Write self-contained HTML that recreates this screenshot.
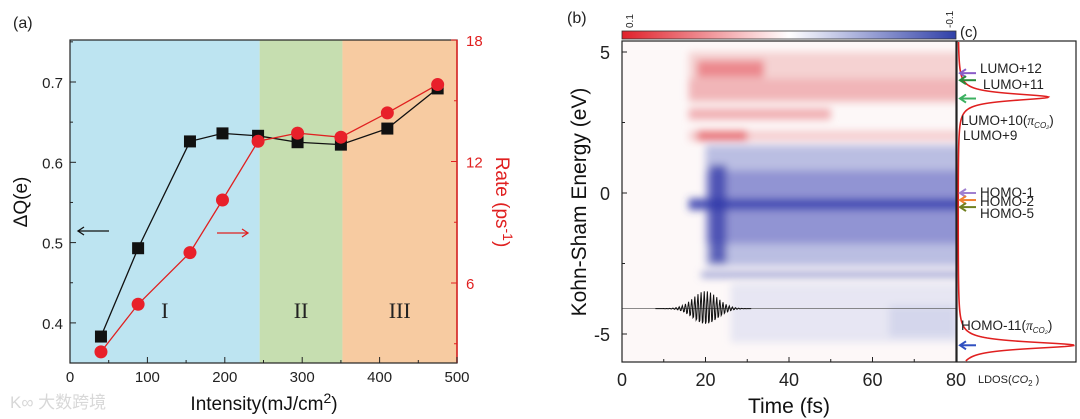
<!DOCTYPE html>
<html><head><meta charset="utf-8"><style>
html,body{margin:0;padding:0;background:#fff;}
svg{display:block;font-family:"Liberation Sans",sans-serif;}
</style></head><body>
<svg id="fig" width="1080" height="419" viewBox="0 0 1080 419" xmlns="http://www.w3.org/2000/svg">
<defs>
<linearGradient id="cbar" x1="0" x2="1" y1="0" y2="0">
<stop offset="0" stop-color="#e0202a"/><stop offset="0.5" stop-color="#ffffff"/><stop offset="1" stop-color="#3040a8"/>
</linearGradient>
<filter id="blur" filterUnits="userSpaceOnUse" x="580" y="0" width="420" height="419"><feGaussianBlur stdDeviation="4"/></filter>
<clipPath id="bclip"><rect x="622" y="41" width="334" height="321"/></clipPath>
</defs>
<g id="pa"></g>
<g id="pb"></g>
<g id="pc"></g>
</svg>
<script>
// ---------- Panel (a) data ----------
const intensity = [40, 88, 155, 197, 243, 294, 350, 410, 475];
const deltaQ = [0.383, 0.493, 0.626, 0.636, 0.633, 0.625, 0.622, 0.642, 0.692];
const rate = [2.6, 4.95, 7.5, 10.1, 13.0, 13.4, 13.2, 14.4, 15.8];
const xTicks = [0, 100, 200, 300, 400, 500];
const leftTicks = [0.4, 0.5, 0.6, 0.7];
const rightTicks = [6, 12, 18];
const regions = [[0, 245, "#bde4f1", "I"], [245, 352, "#c6deb0", "II"], [352, 500, "#f7cba1", "III"]];

// ---------- Panel (b) data ----------
const timeTicks = [0, 20, 40, 60, 80];
const energyTicks = [5, 0, -5];
const levelNames = ["LUMO+12", "LUMO+11", "LUMO+10", "HOMO-1", "HOMO-2", "HOMO-5", "HOMO-11"];
const levelEnergies = [4.25, 4.0, 3.35, 0.0, -0.25, -0.5, -5.4];
const arrowColors = ["#8a5cc8", "#2a8a3a", "#3cb060", "#a080d0", "#f08030", "#708020", "#3050c0"];
const ldosPeaks = [3.4, -5.4];
const ldosHeights = [0.78, 1.0];

const NS = "http://www.w3.org/2000/svg";
function mk(parent, tag, attrs, text) {
  const e = document.createElementNS(NS, tag);
  for (const k in attrs) e.setAttribute(k, attrs[k]);
  if (text !== undefined) e.textContent = text;
  parent.appendChild(e);
  return e;
}

// ---- Panel (a) ----
const pa = document.getElementById('pa');
const ax = { x0: 70, x1: 457, y0: 40, y1: 363 };
const X = v => ax.x0 + v / 500 * (ax.x1 - ax.x0);
const YL = v => 82 + (0.7 - v) * 803;
const YR = v => 40 + (18 - v) * 20.25;

regions.forEach(r => {
  const el = mk(pa, 'rect', { x: X(r[0]), y: ax.y0, width: X(r[1]) - X(r[0]), height: ax.y1 - ax.y0, fill: r[2] });
  
  
  const t = mk(pa, 'text', { x: (X(r[0]) + X(r[1])) / 2, y: 318, 'text-anchor': 'middle', 'font-size': 22, 'font-family': 'Liberation Serif, serif', fill: '#222' }, r[3]);
  
  
});
mk(pa, 'rect', { x: ax.x0, y: ax.y0, width: ax.x1 - ax.x0, height: ax.y1 - ax.y0, fill: 'none', stroke: '#222', 'stroke-width': 1.2 });
mk(pa, 'line', { x1: ax.x1, y1: ax.y0, x2: ax.x1, y2: ax.y1, stroke: '#e02020', 'stroke-width': 1.5 });

xTicks.forEach(v => {
  mk(pa, 'line', { x1: X(v), y1: ax.y1, x2: X(v), y2: ax.y1 - 6, stroke: '#222' });
  if (v < 500) mk(pa, 'line', { x1: X(v + 50), y1: ax.y1, x2: X(v + 50), y2: ax.y1 - 3, stroke: '#222' });
  const t = mk(pa, 'text', { x: X(v), y: 382, 'text-anchor': 'middle', 'font-size': 15, fill: '#222' }, v);
  
  
});
leftTicks.forEach(v => {
  mk(pa, 'line', { x1: ax.x0, y1: YL(v), x2: ax.x0 + 6, y2: YL(v), stroke: '#222' });
  mk(pa, 'line', { x1: ax.x0, y1: YL(v + 0.05), x2: ax.x0 + 3, y2: YL(v + 0.05), stroke: '#222' });
  const t = mk(pa, 'text', { x: 63, y: YL(v) + 6, 'text-anchor': 'end', 'font-size': 15, fill: '#222' }, v.toFixed(1));
  
  
});
[3, 6, 9, 12, 15, 18].forEach(v => {
  mk(pa, 'line', { x1: ax.x1, y1: YR(v), x2: ax.x1 - (v % 6 ? 3 : 6), y2: YR(v), stroke: '#e02020' });
});
rightTicks.forEach(v => {
  const t = mk(pa, 'text', { x: 466, y: YR(v) + 6, 'font-size': 15, fill: '#e02020' }, v);
  
  
});

const bPts = intensity.map((v, i) => X(v) + ',' + YL(deltaQ[i])).join(' ');
const bl = mk(pa, 'polyline', { points: bPts, fill: 'none', stroke: '#111', 'stroke-width': 1.3 });


const rPts = intensity.map((v, i) => X(v) + ',' + YR(rate[i])).join(' ');
const rl = mk(pa, 'polyline', { points: rPts, fill: 'none', stroke: '#e02020', 'stroke-width': 1.3 });


intensity.forEach((v, i) => {
  const s = mk(pa, 'rect', { x: X(v) - 6, y: YL(deltaQ[i]) - 6, width: 12, height: 12, fill: '#111' });
  
  
});
intensity.forEach((v, i) => {
  const c = mk(pa, 'circle', { cx: X(v), cy: YR(rate[i]), r: 6.5, fill: '#e8202a' });
  
  
});
mk(pa, 'line', { x1: 78, y1: 231, x2: 109, y2: 231, stroke: '#111', 'stroke-width': 1.3 });
mk(pa, 'polyline', { points: '84,227 78,231 84,235', fill: 'none', stroke: '#111', 'stroke-width': 1.3 });
mk(pa, 'line', { x1: 217, y1: 233, x2: 248, y2: 233, stroke: '#e02020', 'stroke-width': 1.3 });
mk(pa, 'polyline', { points: '242,229 248,233 242,237', fill: 'none', stroke: '#e02020', 'stroke-width': 1.3 });

let t;
t = mk(pa, 'text', { x: 13, y: 28, 'font-size': 16, fill: '#222' }, '(a)');
 
t = mk(pa, 'text', { x: 0, y: 0, 'font-size': 19, fill: '#111', transform: 'translate(27,202) rotate(-90)', 'text-anchor': 'middle' }, 'ΔQ(e)');
 
t = mk(pa, 'text', { x: 0, y: 0, 'font-size': 19, fill: '#e02020', transform: 'translate(496,202) rotate(90)', 'text-anchor': 'middle' });
 
t.innerHTML = 'Rate (ps<tspan dy="-7" font-size="14">-1</tspan><tspan dy="7">)</tspan>';
t = mk(pa, 'text', { x: 264, y: 410, 'font-size': 19, fill: '#111', 'text-anchor': 'middle' });
 
t.innerHTML = 'Intensity(mJ/cm<tspan dy="-7" font-size="14">2</tspan><tspan dy="7">)</tspan>';
t = mk(pa, 'text', { x: 10, y: 408, 'font-size': 17, fill: '#d8d8d8', 'font-family': 'Liberation Sans, Noto Sans CJK SC, sans-serif' }, 'K∞ 大数跨境');
 

// ---- Panel (b) ----
const pb = document.getElementById('pb');
const bx = { x0: 622, x1: 956, y0: 41, y1: 362 };
const TX = v => bx.x0 + v / 80 * (bx.x1 - bx.x0);
const EY = v => 193 - v * 28.2;

const cb = mk(pb, 'rect', { x: 622, y: 31, width: 334, height: 8, fill: 'url(#cbar)', stroke: '#333', 'stroke-width': 0.8 });
 
t = mk(pb, 'text', { x: 0, y: 0, 'font-size': 10, fill: '#222', transform: 'translate(633,28) rotate(-90)' }, '0.1');
 
t = mk(pb, 'text', { x: 0, y: 0, 'font-size': 10, fill: '#222', transform: 'translate(953,28) rotate(-90)' }, '-0.1');
 

const hm = mk(pb, 'g', { 'clip-path': 'url(#bclip)' });
 
mk(hm, 'rect', { x: bx.x0, y: bx.y0, width: 334, height: 321, fill: '#fdf8f8' });
const hg = mk(hm, 'g', { filter: 'url(#blur)' });
const bands = [
  [16, 82, 5.0, 3.2, '#f2c8c8', 0.8],
  [18, 34, 4.7, 4.1, '#e86a70', 0.7],
  [16, 82, 4.05, 3.3, '#f0a8ac', 0.7],
  [16, 50, 3.0, 2.6, '#eb9096', 0.7],
  [16, 82, 2.2, 1.85, '#f0b0b4', 0.6],
  [18, 30, 2.2, 1.85, '#e03840', 0.6],
  [20, 82, 1.7, -2.6, '#b4b8e0', 0.9],
  [20, 82, 0.8, -1.8, '#7478c8', 0.6],
  [16, 82, -0.2, -0.6, '#3c42b0', 0.9],
  [21, 25, 1.0, -2.5, '#3038a8', 0.7],
  [19, 82, -2.8, -3.0, '#8088c8', 0.8],
  [26, 82, -3.2, -5.3, '#e4e4f2', 0.9],
  [64, 80, -4.0, -5.1, '#d0d2ea', 0.8]
];
bands.forEach(b => {
  const r = mk(hg, 'rect', { x: TX(b[0]), y: EY(b[2]), width: TX(b[1]) - TX(b[0]), height: EY(b[3]) - EY(b[2]), fill: b[4], opacity: b[5] });
  
  
});
mk(hm, 'line', { x1: bx.x0, y1: EY(-4.1), x2: bx.x1, y2: EY(-4.1), stroke: '#666', 'stroke-width': 0.8 });
let pp = '';
for (let tt = 8; tt <= 31; tt += 0.15) {
  const env = Math.exp(-Math.pow((tt - 20) / 4.2, 2)) * 0.62;
  pp += TX(tt) + ',' + (EY(-4.1) - env * Math.sin(tt * 2 * Math.PI / 0.75) * 28.2) + ' ';
}
const pulse = mk(hm, 'polyline', { points: pp, fill: 'none', stroke: '#111', 'stroke-width': 1 });
 

mk(pb, 'rect', { x: bx.x0, y: bx.y0, width: 334, height: 321, fill: 'none', stroke: '#222', 'stroke-width': 1.2 });
timeTicks.forEach(v => {
  mk(pb, 'line', { x1: TX(v), y1: bx.y1, x2: TX(v), y2: bx.y1 - 5, stroke: '#222' });
  if (v < 80) mk(pb, 'line', { x1: TX(v + 10), y1: bx.y1, x2: TX(v + 10), y2: bx.y1 - 3, stroke: '#222' });
  const l = mk(pb, 'text', { x: TX(v), y: 386, 'text-anchor': 'middle', 'font-size': 18, fill: '#222' }, v);
   
});
energyTicks.forEach(v => {
  mk(pb, 'line', { x1: bx.x0, y1: EY(v), x2: bx.x0 + 5, y2: EY(v), stroke: '#222' });
  if (v > -5) mk(pb, 'line', { x1: bx.x0, y1: EY(v - 2.5), x2: bx.x0 + 3, y2: EY(v - 2.5), stroke: '#222' });
  const l = mk(pb, 'text', { x: 610, y: EY(v) + 7, 'text-anchor': 'end', 'font-size': 18, fill: '#222' }, v);
   
});
t = mk(pb, 'text', { x: 567, y: 23, 'font-size': 16, fill: '#222' }, '(b)');
 
t = mk(pb, 'text', { x: 0, y: 0, 'font-size': 21, fill: '#111', transform: 'translate(586,202) rotate(-90)', 'text-anchor': 'middle' }, 'Kohn-Sham Energy (eV)');
 
t = mk(pb, 'text', { x: 789, y: 413, 'font-size': 21, fill: '#111', 'text-anchor': 'middle' }, 'Time (fs)');
 

// ---- Panel (c) ----
const pc = document.getElementById('pc');
const cx0 = 957, cx1 = 1076;
mk(pc, 'rect', { x: cx0, y: 41, width: cx1 - cx0, height: 321, fill: '#fff', stroke: '#222', 'stroke-width': 1.2 });
let lp = '';
for (let y = 42; y <= 361; y += 0.5) {
  const e = (193 - y) / 28.2;
  let v = 0;
  ldosPeaks.forEach((p, i) => { v += ldosHeights[i] / (1 + Math.pow((e - p) / 0.15, 2)); });
  lp += (958 + v * 116) + ',' + y + ' ';
}
const ld = mk(pc, 'polyline', { points: lp, fill: 'none', stroke: '#e02020', 'stroke-width': 1.6 });
 
levelEnergies.forEach((e, i) => {
  const y = EY(e);
  const a = mk(pc, 'g', {});
   
  mk(a, 'line', { x1: 960, y1: y, x2: 976, y2: y, stroke: arrowColors[i], 'stroke-width': 2 });
  mk(a, 'polyline', { points: '966,' + (y - 4) + ' 960,' + y + ' 966,' + (y + 4), fill: 'none', stroke: arrowColors[i], 'stroke-width': 2 });
});
const labels = [
  ['LUMO+12', 980, 73], ['LUMO+11', 983, 89], ['HOMO-1', 980, 197], ['HOMO-2', 980, 206], ['HOMO-5', 980, 218], ['LUMO+9', 963, 140]
];
labels.forEach(l => {
  const e = mk(pc, 'text', { x: l[1], y: l[2], 'font-size': 13.5, fill: '#222' }, l[0]);
   
});
t = mk(pc, 'text', { x: 961, y: 125, 'font-size': 13.5, fill: '#222' });
t.innerHTML = 'LUMO+10(<tspan font-family="Liberation Serif, serif" font-style="italic">π</tspan><tspan font-size="8" dy="3" font-style="italic">CO₂</tspan><tspan dy="-3">)</tspan>';
 
t = mk(pc, 'text', { x: 961, y: 330, 'font-size': 13.5, fill: '#222' });
t.innerHTML = 'HOMO-11(<tspan font-family="Liberation Serif, serif" font-style="italic">π</tspan><tspan font-size="8" dy="3" font-style="italic">CO₂</tspan><tspan dy="-3">)</tspan>';
 
t = mk(pc, 'text', { x: 978, y: 383, 'font-size': 11, fill: '#222' });
t.innerHTML = 'LDOS(<tspan font-style="italic">CO</tspan><tspan font-size="8" dy="3">2</tspan><tspan dy="-3"> )</tspan>';
 
t = mk(pc, 'text', { x: 960, y: 37, 'font-size': 15, fill: '#222' }, '(c)');
 
</script>
</body></html>
